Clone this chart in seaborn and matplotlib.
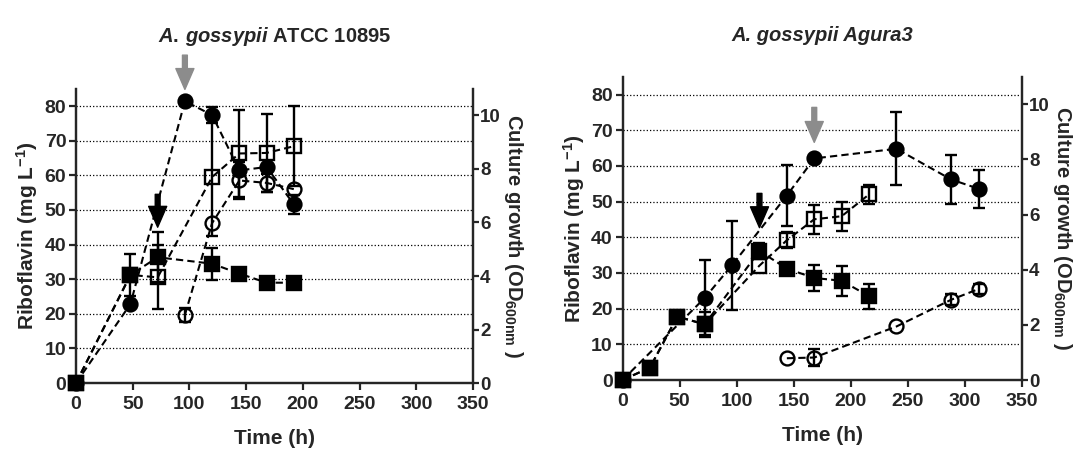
import numpy as np
import pandas as pd
import matplotlib
matplotlib.use('Agg')
import matplotlib.pyplot as plt
import seaborn as sns

# ---------------- dados ----------------
# A. gossypii ATCC 10895
atcc_t_fc = [0, 48, 96, 120, 144, 168, 192]            # circulo cheio (mg/L)
atcc_fc = [0, 22.8, 81.4, 77.4, 61.4, 62.4, 51.6]
atcc_fc_err = [0, 0, 0, 2.4, 0, 0, 2.7]

atcc_t_oc = [96, 120, 144, 168, 192]                    # circulo aberto (mg/L)
atcc_oc = [19.7, 46.2, 58.5, 57.8, 56.0]
atcc_oc_err = [2.0, 0, 5.3, 2.7, 0]

atcc_t_fs = [0, 48, 72, 120, 144, 168, 192]            # quadrado cheio (OD)
atcc_fs = [0, 4.04, 4.70, 4.46, 4.09, 3.75, 3.75]
atcc_fs_err = [0, 0.8, 0.93, 0.6, 0, 0, 0]

atcc_t_os = [0, 48, 72, 120, 144, 168, 192]            # quadrado aberto (OD)
atcc_os = [0, 4.04, 3.95, 7.70, 8.58, 8.60, 8.85]
atcc_os_err = [0, 0, 1.2, 2.2, 1.64, 1.45, 1.5]

# A. gossypii Agura3
agura_t_fc = [0, 72, 96, 144, 168, 240, 288, 312]
agura_fc = [0, 23.0, 32.2, 51.7, 62.1, 64.8, 56.2, 53.6]
agura_fc_err = [0, 10.5, 12.5, 8.5, 0, 10.2, 7.0, 5.3]

agura_t_oc = [144, 168, 240, 288, 312]
agura_oc = [6.1, 6.3, 15.0, 22.5, 25.5]
agura_oc_err = [0, 2.5, 0, 1.5, 1.5]

agura_t_fs = [0, 24, 48, 72, 120, 144, 168, 192, 216]
agura_fs = [0, 0.45, 2.30, 2.02, 4.68, 4.04, 3.70, 3.60, 3.04]
agura_fs_err = [0, 0, 0, 0.45, 0.3, 0, 0.48, 0.55, 0.45]

agura_t_os = [0, 24, 48, 72, 120, 144, 168, 192, 216]
agura_os = [0, 0.45, 2.30, 2.02, 4.15, 5.07, 5.83, 5.94, 6.73]
agura_os_err = [0, 0, 0, 0, 0, 0.3, 0.52, 0.52, 0.34]

# setas (tempo, topo, ponta) em mg/L
atcc_seta_cinza = (96, 94.7, 84.8)
atcc_seta_preta = (72, 54.5, 45.0)
agura_seta_cinza = (168, 76.4, 66.6)
agura_seta_preta = (120, 52.3, 42.7)

# ---------------- estilo ----------------
sns.set_style('ticks')
plt.rcParams['font.family'] = ['Liberation Sans', 'DejaVu Sans']
plt.rcParams['font.weight'] = 'bold'
plt.rcParams['mathtext.fontset'] = 'custom'
plt.rcParams['mathtext.rm'] = 'Liberation Sans:bold'
plt.rcParams['mathtext.bf'] = 'Liberation Sans:bold'
plt.rcParams['mathtext.it'] = 'Liberation Sans:italic:bold'
plt.rcParams['axes.linewidth'] = 1.6

fig = plt.figure(figsize=(10.78, 4.55), dpi=100)
ax_l = fig.add_axes([0.0705, 0.1582, 0.3683, 0.6468])
ax_r = fig.add_axes([0.5775, 0.1648, 0.3705, 0.6666])


def serie(ax, t, v, err, marker, cheio, ms):
    df = pd.DataFrame({'t': t, 'v': v})
    fc = 'black' if cheio else 'none'
    sns.lineplot(data=df, x='t', y='v', ax=ax, color='black', errorbar=None,
                 marker=marker, markersize=ms, markerfacecolor=fc,
                 markeredgecolor='black', markeredgewidth=1.7,
                 linewidth=1.5, dashes=(3.5, 2.0), clip_on=False, zorder=3)
    err = np.array(err)
    m = err > 0
    ax.errorbar(np.array(t)[m], np.array(v)[m], yerr=err[m], fmt='none',
                ecolor='black', elinewidth=1.7, capsize=4, capthick=1.7,
                clip_on=False, zorder=2)


def seta(ax, s, cor):
    t, topo, ponta = s
    ax.annotate('', xy=(t, ponta), xytext=(t, topo), annotation_clip=False,
                arrowprops=dict(facecolor=cor, edgecolor=cor, width=3.5,
                                headwidth=13, headlength=15, shrink=0))


def painel(ax, titulo, dados, setas, pad_titulo, estilo):
    ax2 = ax.twinx()
    (t_fc, fc, fc_e), (t_oc, oc, oc_e), (t_fs, fs, fs_e), (t_os, os_, os_e) = dados
    serie(ax, t_oc, oc, oc_e, 'o', False, 10)
    serie(ax, t_fc, fc, fc_e, 'o', True, 10)
    serie(ax2, t_os, os_, os_e, 's', False, 9.5)
    serie(ax2, t_fs, fs, fs_e, 's', True, 9.5)

    ax.set_xlim(0, 350)
    ax.set_ylim(0, 85)
    ax2.set_ylim(0, 11)
    ax.set_xticks(range(0, 351, 50))
    ax.set_yticks(range(0, 81, 10))
    ax2.set_yticks(range(0, 11, 2))
    ax.yaxis.grid(True, linestyle=':', color='black', linewidth=0.9)
    for a in (ax, ax2):
        a.spines['top'].set_visible(False)
        a.tick_params(labelsize=14, width=1.6, length=5, pad=2)
    ax.tick_params(axis='x', pad=4)
    ax2.tick_params(labelsize=13.5, length=4, pad=1)
    ax2.spines['right'].set_visible(True)
    ax.set_xlabel('Time (h)', fontsize=15, fontweight='bold', labelpad=12)
    ax.set_ylabel(r'Riboflavin (mg L$^{\mathbf{-1}}$)', fontsize=15,
                  fontweight='bold', labelpad=3)
    ax2.set_ylabel(r'Culture growth (OD$_{\mathbf{600nm}}$ )', fontsize=14.5,
                   fontweight='bold', rotation=270, va='bottom', labelpad=1)
    ax.set_title(titulo, fontsize=14.5, fontweight='bold', fontstyle=estilo,
                 pad=pad_titulo)
    seta(ax, setas[0], '#8c8c8c')
    seta(ax, setas[1], 'black')


painel(ax_l, r'$\mathit{A.\,gossypii}$ ATCC 10895',
       [(atcc_t_fc, atcc_fc, atcc_fc_err), (atcc_t_oc, atcc_oc, atcc_oc_err),
        (atcc_t_fs, atcc_fs, atcc_fs_err), (atcc_t_os, atcc_os, atcc_os_err)],
       [atcc_seta_cinza, atcc_seta_preta], 34, 'normal')
painel(ax_r, 'A. gossypii Agura3',
       [(agura_t_fc, agura_fc, agura_fc_err), (agura_t_oc, agura_oc, agura_oc_err),
        (agura_t_fs, agura_fs, agura_fs_err), (agura_t_os, agura_os, agura_os_err)],
       [agura_seta_cinza, agura_seta_preta], 26, 'italic')

fig.savefig('out.png', dpi=100)
